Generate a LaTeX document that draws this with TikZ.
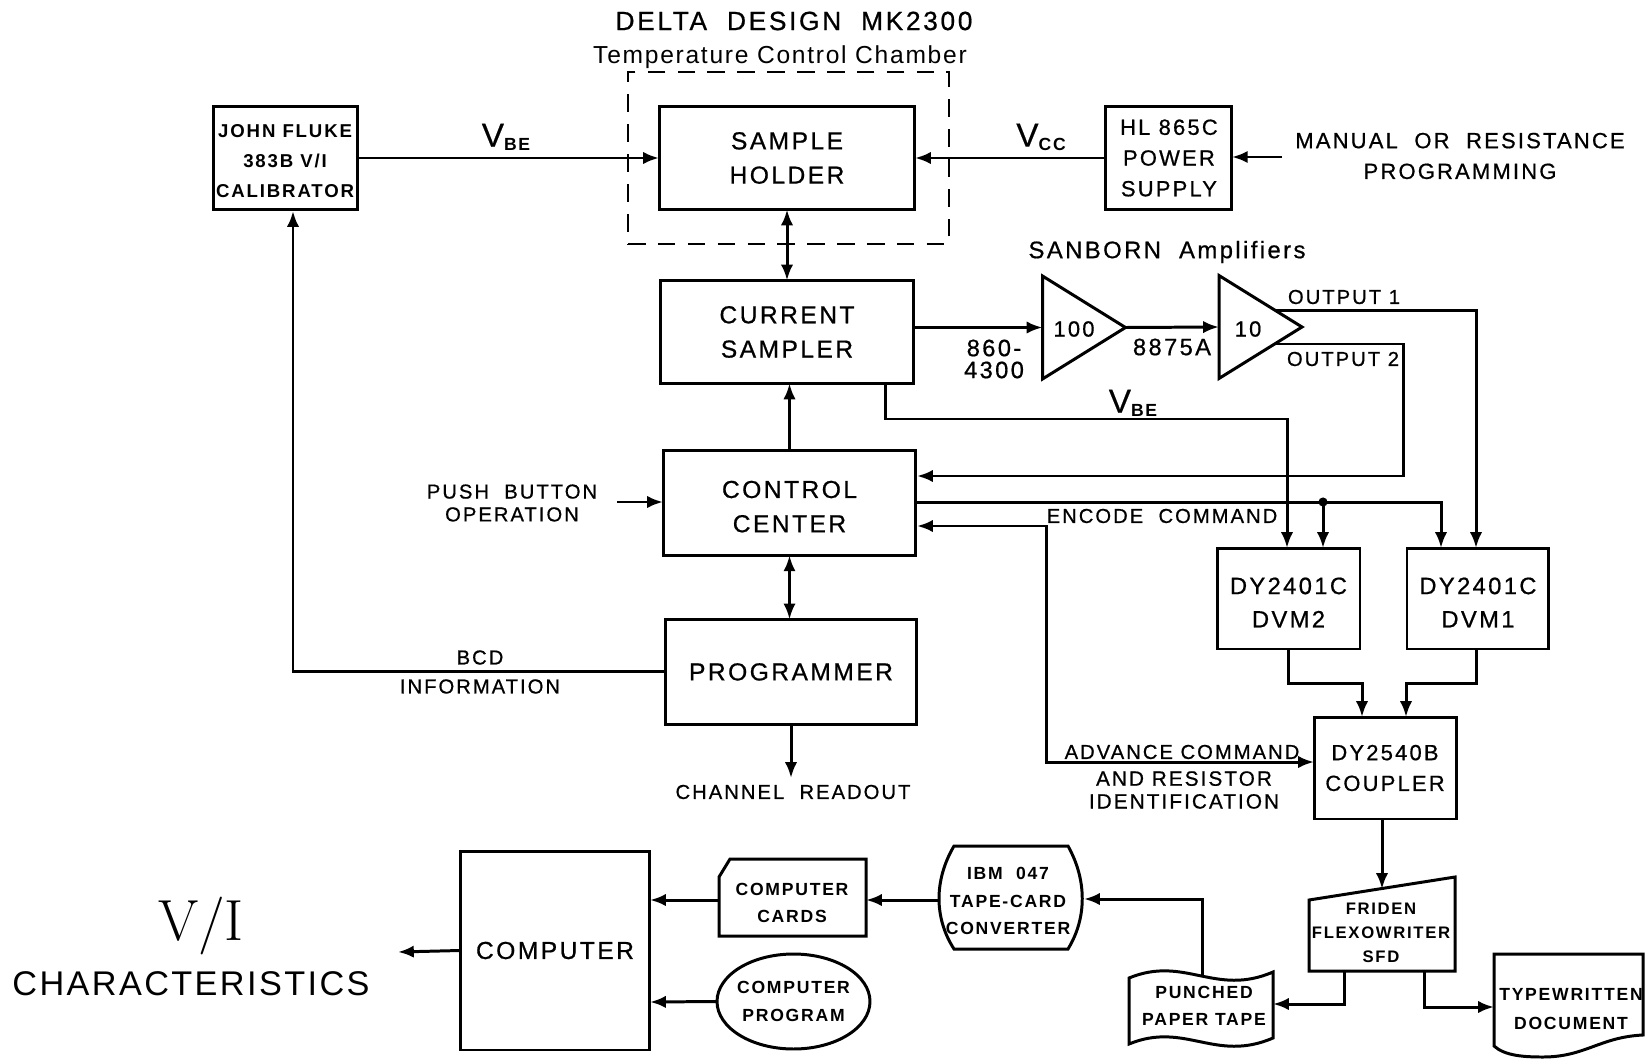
\documentclass[tikz,border=0pt]{standalone}
\usepackage{fontspec}
\newfontfamily\lettering[LetterSpace=10,FakeBold=0.7]{Liberation Sans}
\newfontfamily\heavyletters[LetterSpace=10]{Liberation Sans Bold}
\newfontfamily\bigletters[LetterSpace=7]{Liberation Sans}
\newfontfamily\plainletters[FakeBold=0.4]{Liberation Sans}
\usetikzlibrary{shapes.geometric, arrows.meta, positioning, calc}
\newcommand{\letsize}[2]{\fontsize{#1}{#2}\selectfont\lettering}
\newcommand{\heavysize}[2]{\fontsize{#1}{#2}\selectfont\heavyletters}
\newcommand{\vsub}[2]{{\fontsize{19}{19}\selectfont\plainletters #1\raisebox{-2pt}{\fontsize{10}{10}\selectfont\heavyletters #2}}}
\newcommand{\lowered}[1]{\rule{0pt}{#1}}

\begin{document}
\begin{tikzpicture}[
        x=0.02cm, y=-0.02cm,
        line width=1.7pt, line join=miter,
        box/.style={draw, align=center, inner sep=0pt, outer sep=0pt, font=\letsize{14}{19.5}},
        lab/.style={align=center, inner sep=0pt, outer sep=0pt, font=\letsize{11.5}{15}},
        tag/.style={align=center, inner sep=0pt, outer sep=0pt, font=\heavysize{10}{15.5}},
        amp/.style={draw, isosceles triangle, isosceles triangle stretches, minimum height=1.66cm, minimum width=2.06cm, inner sep=0pt, outer sep=0pt, anchor=lower side},
        arr/.style={-{Latex[length=9pt,width=7pt]}},
        dbl/.style={{Latex[length=9pt,width=7pt]}-{Latex[length=9pt,width=7pt]}}
    ]
        \useasboundingbox (0,0) rectangle (1649,1061);

        \node[draw, dashed, dash pattern=on 10pt off 7pt, line width=1.1pt, minimum width=6.42cm, minimum height=3.44cm, outer sep=0pt] (chamber) at (788.5,158) {};
        \node[box, minimum width=5.12cm, minimum height=2.06cm] (sample) at (787,158) {SAMPLE\\HOLDER};
        \node[box, minimum width=2.88cm, minimum height=2.08cm, left=6.04cm of sample, font=\heavysize{10.6}{17}] (fluke) {\lowered{11pt}JOHN FLUKE\\383B V/I\\CALIBRATOR};
        \node[box, minimum width=2.52cm, minimum height=2.08cm, right=3.82cm of sample, font=\letsize{12.5}{17.5}] (hl) {HL 865C\\POWER\\SUPPLY};
        \node[box, minimum width=5.08cm, minimum height=2.06cm, below=1.42cm of sample] (current) {CURRENT\\SAMPLER};
        \node[box, minimum width=5.06cm, minimum height=2.10cm, below=1.34cm of current, xshift=0.05cm] (control) {\lowered{14pt}CONTROL\\CENTER};
        \node[box, minimum width=5.04cm, minimum height=2.10cm, below=1.28cm of control, xshift=0.03cm] (program) {PROGRAMMER};
        \node[box, minimum width=2.86cm, minimum height=2.02cm, font=\letsize{13.5}{19}] (dvmB) at (1288.5,598.5) {\lowered{14pt}DY2401C\\DVM2};
        \node[box, minimum width=2.84cm, minimum height=2.02cm, right=0.94cm of dvmB, font=\letsize{13.5}{19}] (dvmA) {\lowered{14pt}DY2401C\\DVM1};
        \node[box, minimum width=2.84cm, minimum height=2.04cm, font=\letsize{12.5}{17.5}] (coupler) at (1385,768) {DY2540B\\COUPLER};
        \node[box, minimum width=3.80cm, minimum height=3.98cm] (computer) at (555,950.5) {COMPUTER};
        \node[box, ellipse, minimum width=3.06cm, minimum height=1.90cm, inner xsep=-6pt, font=\heavysize{10}{15.5}] (progcard) at (793.5,1001.5) {COMPUTER\\PROGRAM};

        \node[amp] (ampA) at (1042.5,327.5) {};
        \node[amp] (ampB) at (1219,327) {};
        \node[lab, font=\letsize{12.5}{15}] (ampAtxt) at (1074,329) {100};
        \node[lab, font=\letsize{12.5}{15}] (ampBtxt) at (1248,329) {10};

        % shapes with no ready node
        \draw (730,859) -- (866,859) -- (866,936) -- (719,936) -- (719,877) -- cycle;
        \draw (954,846) -- (1068,846) .. controls (1087,880) and (1087,918) .. (1068,949) -- (954,949) .. controls (934,918) and (934,880) .. cycle;
        \draw (1309,900) -- (1455,877) -- (1455,971) -- (1309,971) -- cycle;
        \draw (1129,978) .. controls (1185,955) and (1215,997) .. (1273,972) -- (1273,1038) .. controls (1215,1063) and (1185,1021) .. (1129,1044) -- cycle;
        \draw (1494,954) -- (1643,954) -- (1643,1035) .. controls (1600,1037) and (1585,1057) .. (1543,1057) .. controls (1525,1057) and (1505,1056) .. (1494,1046) -- cycle;

        \node[tag] (cards) at (792,903) {COMPUTER\\CARDS};
        \node[tag] (ibm) at (1008,901) {IBM\ \ 047\\TAPE-CARD\\CONVERTER};
        \node[tag, font=\heavysize{9.5}{13.5}] (friden) at (1381,933) {FRIDEN\\FLEXOWRITER\\SFD};
        \node[tag] (tape) at (1204,1006) {PUNCHED\\PAPER TAPE};
        \node[tag, font=\heavysize{10}{17}] (typed) at (1571,1009) {TYPEWRITTEN\\DOCUMENT};

        \node[lab, font=\letsize{15}{15}] (titleA) at (794,21) {DELTA\ \ DESIGN\ \ MK2300};
        \node[lab, font=\fontsize{14}{15}\selectfont\bigletters] (titleB) at (780,57) {Temperature Control Chamber};
        \node[lab, font=\letsize{13.6}{15}] (sanborn) at (1167,252) {SANBORN\ \ Amplifiers};
        \node[lab, font=\letsize{12.5}{17.5}] (manual) at (1460,156) {MANUAL\ \ OR\ \ RESISTANCE\\PROGRAMMING};
        \node[lab, font=\letsize{11.5}{13}] (push) at (512,503) {PUSH\ \ BUTTON\\OPERATION};
        \node[lab, font=\letsize{11.5}{16.5}] (bcd) at (480,672) {BCD\\INFORMATION};
        \node[lab] (readout) at (793,792) {CHANNEL\ \ READOUT};
        \node[lab] (encode) at (1162,516) {ENCODE\ \ COMMAND};
        \node[lab] (advance) at (1182,752) {ADVANCE COMMAND};
        \node[lab, font=\letsize{11.8}{13}] (resistor) at (1184,790) {AND RESISTOR\\IDENTIFICATION};
        \node[lab, font=\letsize{13.5}{12.5}] (modelA) at (994,359) {860-\\4300};
        \node[lab, font=\letsize{13.5}{15}] (modelB) at (1172,347) {8875A};
        \node[lab] (outA) at (1344,297) {OUTPUT 1};
        \node[lab] (outB) at (1343,359) {OUTPUT 2};
        \node[lab, font=\relax] (vbeA) at (506,137) {\vsub{V}{BE}};
        \node[lab, font=\relax] (vcc) at (1041,137) {\vsub{V}{CC}};
        \node[lab, font=\relax] (vbeB) at (1133,403) {\vsub{V}{BE}};
        \node[lab, font=\fontsize{33}{33}\selectfont\rmfamily] (vi) at (201,926) {V/I};
        \node[lab, font=\fontsize{19.5}{20}\selectfont\bigletters] (chars) at (191,984) {CHARACTERISTICS};

        \coordinate (manualEnd) at (1282,157);
        \coordinate (hlIn) at (hl.east |- manualEnd);
        \coordinate (bcdUp) at (293,211);
        \coordinate (pushEnd) at (617,502);
        \coordinate (readEnd) at (792,778);
        \coordinate (vbeOut) at (885,383);
        \coordinate (vbeIn) at (1287,548);
        \coordinate (ampOutA) at ($(ampB.apex)!0.33!(ampB.left corner)$);
        \coordinate (ampOutB) at ($(ampB.apex)!0.33!(ampB.right corner)$);
        \coordinate (dvmAin) at (1476,548);
        \coordinate (cmdIn) at (1441,548);
        \coordinate (tapBottom) at (1323,548);
        \coordinate (tapDot) at (1323,502);
        \coordinate (ctlIn) at (917,476);
        \coordinate (ctlBack) at (917,526);
        \coordinate (cplIn) at (1314,762);
        \coordinate (cplA) at (1362,717);
        \coordinate (cplB) at (1406,717);
        \coordinate (dvmBout) at (1288,649);
        \coordinate (dvmAout) at (1476,649);
        \coordinate (fridenTop) at (1382,889);
        \coordinate (fridenL) at (1344,971);
        \coordinate (fridenR) at (1424,971);
        \coordinate (tapeEast) at (1273,1004);
        \coordinate (docWest) at (1494,1007);
        \coordinate (tapeTop) at (1202,975);
        \coordinate (ibmEast) at (1084,899);
        \coordinate (ibmWest) at (938,900);
        \coordinate (cardsEast) at (866,900);
        \coordinate (cardsWest) at (719,900);
        \coordinate (compA) at (650,900);
        \coordinate (compB) at (650,1002);
        \coordinate (viEnd) at (398,952);

        \draw[arr] (fluke) -- (sample);
        \draw[arr] (hl) -- (sample);
        \draw[arr] (manualEnd) -- (hlIn);
        \draw[dbl] (sample.south) -- (sample.south |- current.north);
        \draw[arr] (control.north) -- (control.north |- current.south);
        \draw[dbl] (control.south) -- (control.south |- program.north);
        \draw[arr] (pushEnd) -- (pushEnd -| control.west);
        \draw[arr] (program.south) -- (readEnd -| program.south);
        \draw[arr] (program.west) -| (bcdUp);
        \draw[arr] (current.east |- ampA.lower side) -- (ampA.lower side);
        \draw[arr] (ampA.apex) -- (ampB.lower side);
        \draw[arr] (ampOutA) -| (dvmAin);
        \draw[arr] (ampOutB) -- ++(129,0) |- (ctlIn);
        \draw[arr] (vbeOut) -- ++(0,36) -| (vbeIn);
        \draw[arr] (control.east) -| (cmdIn);
        \draw[arr] (tapDot) -- (tapBottom);
        \fill (tapDot) circle (2.6pt);
        \draw[dbl] (ctlBack) -- ++(129,0) |- (cplIn);
        \draw[arr] (dvmBout) -- ++(0,34) -| (cplA);
        \draw[arr] (dvmAout) -- ++(0,34) -| (cplB);
        \draw[arr] (coupler.south -| fridenTop) -- (fridenTop);
        \draw[arr] (fridenL) |- (tapeEast);
        \draw[arr] (fridenR) |- (docWest);
        \draw[arr] (tapeTop) |- (ibmEast);
        \draw[arr] (ibmWest) -- (cardsEast);
        \draw[arr] (cardsWest) -- (compA);
        \draw[arr] (progcard.west) -- (compB);
        \draw[arr] (computer.west) -- (viEnd);
    \end{tikzpicture}
\end{document}
